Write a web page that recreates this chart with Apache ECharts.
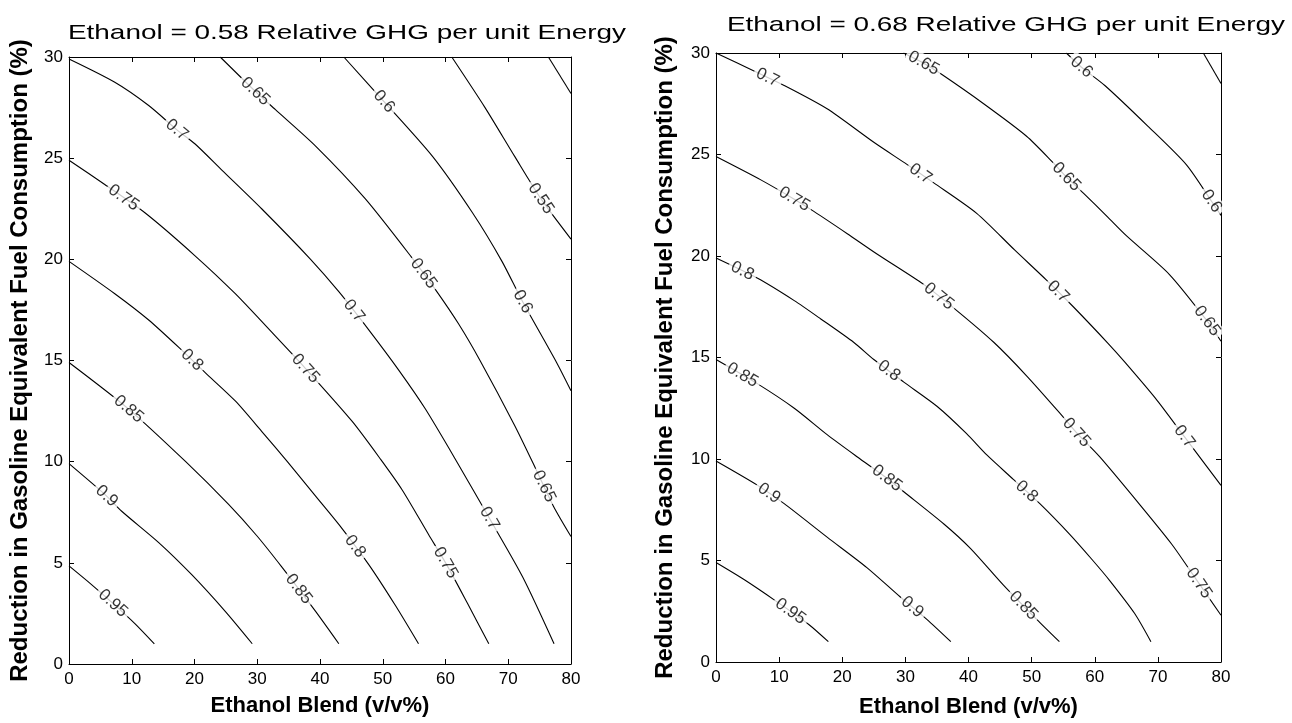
<!DOCTYPE html>
<html>
<head>
<meta charset="utf-8">
<script src="https://cdn.jsdelivr.net/npm/echarts@6/dist/echarts.min.js"></script>
<style>
html, body { margin: 0; padding: 0; background: #fff; }
#chart { width: 1292px; height: 723px; }
</style>
</head>
<body>
<div id="chart"></div>
<script>
var F = '"Liberation Sans", Arial, Helvetica, sans-serif';

// texts
var leftTitle = 'Ethanol = 0.58 Relative GHG per unit Energy';
var rightTitle = 'Ethanol = 0.68 Relative GHG per unit Energy';
var xName = 'Ethanol Blend (v/v%)';
var yName = 'Reduction in Gasoline Equivalent Fuel Consumption (%)';

// contour levels (left panel)
var leftLevels = [0.95, 0.9, 0.85, 0.8, 0.75, 0.7, 0.65, 0.6, 0.55, 0.5];
var left095 = [[0,4.85],[3.5,3.95],[7,3.0],[10.5,2.0],[13.6,1.0]];
var left090 = [[0,9.9],[6.0,8.3],[8.4,7.55],[14.3,6.0],[19.6,4.4],[24.9,2.6],[29.2,1.0]];
var left085 = [[0,14.9],[9.5,12.6],[18.6,10.0],[25.4,7.9],[29.9,6.35],[33.9,4.8],[39.3,2.6],[43.0,1.0]];
var left080 = [[0,19.9],[7.3,18.3],[12.7,17.0],[18.0,15.5],[21.7,14.4],[26.5,13.0],[30.7,11.5],[34.8,10.0],[39.3,8.3],[43.0,6.9],[47.8,4.9],[52.0,2.9],[55.7,1.0]];
var left075 = [[0,24.9],[5.7,23.7],[12.1,22.3],[20.0,20.2],[26.5,18.3],[32.9,16.2],[37.7,14.6],[45.1,12.0],[49.7,10.1],[53.1,8.6],[57.3,6.4],[60.2,4.9],[63.5,3.0],[66.9,1.0]];
var left070 = [[0,29.9],[7.3,28.75],[12.7,27.6],[17.2,26.4],[20.1,25.7],[24.4,24.4],[30.7,22.5],[38.5,20.0],[43.0,18.4],[47.8,16.5],[52.6,14.5],[56.8,12.6],[61.8,10.0],[67.0,7.2],[72.3,4.3],[77.3,1.0]];
var left065 = [[24.1,30],[29.7,28.3],[32.9,27.4],[39.3,25.6],[47.2,23.0],[54.6,20.1],[58.4,18.5],[62.1,16.8],[65.5,15.0],[71.0,11.8],[74.3,9.7],[77.2,7.8],[80,6.3]];
var left060 = [[43.8,30],[50.2,27.8],[57.9,25.1],[64.3,22.3],[69.0,19.9],[72.3,17.9],[77.7,14.9],[80,13.5]];
var left055 = [[61.0,30],[66.3,27.5],[71.0,25.1],[75.2,23.0],[80,21.0]];
var left050 = [[76.4,30],[80,28.2]];
// x positions of the inline labels, one list per level
var leftLabelX = [[7.0],[6.0],[9.5,36.6],[19.6,45.6],[8.7,37.7,60.0],[17.2,45.4,67.0],[29.7,56.5,75.7],[50.2,72.3],[75.2],[]];

// contour levels (right panel)
var rightLevels = [0.95, 0.9, 0.85, 0.8, 0.75, 0.7, 0.65, 0.6, 0.55];
var right095 = [[0,4.9],[4.5,4.05],[9.5,3.0],[14.7,1.85],[17.8,1.0]];
var right090 = [[0,9.9],[6.6,8.7],[10.8,7.8],[17.6,6.15],[23.9,4.65],[29.2,3.2],[33.4,2.1],[37.2,1.0]];
var right085 = [[0,14.9],[6.6,13.7],[12.4,12.5],[17.6,11.2],[22.4,10.1],[27.1,9.05],[29.7,8.4],[36.1,6.8],[40.3,5.6],[45.5,3.8],[50.8,2.1],[54.4,1.0]];
var right080 = [[0,19.9],[6.6,18.9],[12.4,17.8],[16.6,16.9],[21.8,15.75],[25.0,14.9],[29.7,13.8],[35.0,12.6],[39.7,11.25],[42.9,10.2],[47.1,9.0],[51.3,7.8],[56.0,6.3],[59.7,5.0],[62.4,4.0],[66.3,2.4],[68.9,1.0]];
var right075 = [[0,24.9],[7.1,23.75],[12.4,22.8],[15.5,22.2],[20.8,21.1],[25.5,20.1],[32.9,18.6],[38.2,17.3],[44.0,15.75],[49.2,14.1],[54.5,12.25],[57.1,11.3],[60.8,10.1],[67.0,7.8],[72.2,5.8],[74.9,4.6],[80,2.3]];
var right070 = [[0,30],[6.1,29.1],[10.8,28.4],[17.6,27.25],[25.0,25.6],[30.3,24.5],[34.5,23.6],[41.3,22.1],[47.3,20.3],[52.4,18.8],[56.6,17.5],[62.1,15.7],[64.7,14.8],[69.6,13.0],[74.2,11.1],[80,8.7]];
var right065 = [[29.7,30],[32.9,29.5],[35.5,29.0],[42.4,27.5],[49.2,25.9],[53.4,24.6],[55.5,23.9],[58.2,23.1],[62.1,21.9],[65.0,21.0],[71.8,19.1],[77.8,16.8],[80,15.8]];
var right060 = [[55.5,30],[57.9,29.3],[61.6,28.4],[68.4,26.4],[74.5,24.5],[78.5,22.7],[80,22.0]];
var right055 = [[77.2,30],[80,28.5]];
var rightLabelX = [[11.8],[8.4,31.1],[4.2,27.1,48.7],[4.2,27.4,49.2],[12.4,35.3,57.1,76.5],[8.2,32.4,54.2,74.2],[32.9,55.5,77.8],[57.9,78.5],[]];

var leftLines = [left095, left090, left085, left080, left075, left070, left065, left060, left055, left050];
var rightLines = [right095, right090, right085, right080, right075, right070, right065, right060, right055];

var myChart = echarts.init(document.getElementById('chart'));

function interpY(pts, x) {
    if (x <= pts[0][0]) return pts[0][1];
    for (var i = 0; i < pts.length - 1; i++) {
        var a = pts[i], b = pts[i + 1];
        if (x >= a[0] && x <= b[0]) return a[1] + (b[1] - a[1]) * (x - a[0]) / (b[0] - a[0]);
    }
    return pts[pts.length - 1][1];
}

function xAxisOf(g, pos, main) {
    return {
        type: 'value', gridIndex: g, position: pos, min: 0, max: 80, interval: 10,
        axisLine: { show: true, onZero: false, lineStyle: { color: '#000', width: 1 } },
        axisTick: { show: true, inside: true, length: 5, lineStyle: { color: '#000' } },
        axisLabel: { show: main, color: '#000', fontSize: 17, fontFamily: F, margin: 7, showMinLabel: true, showMaxLabel: true },
        splitLine: { show: false },
        name: main ? xName : '', nameLocation: 'middle', nameGap: g === 0 ? 31 : 34,
        nameTextStyle: { color: '#000', fontSize: 22, fontWeight: 'bold', fontFamily: F }
    };
}
function yAxisOf(g, pos, main) {
    return {
        type: 'value', gridIndex: g, position: pos, min: 0, max: 30, interval: 5,
        axisLine: { show: true, onZero: false, lineStyle: { color: '#000', width: 1 } },
        axisTick: { show: true, inside: true, length: 5, lineStyle: { color: '#000' } },
        axisLabel: { show: main, color: '#000', fontSize: 17, fontFamily: F, margin: 6, showMinLabel: true, showMaxLabel: true },
        splitLine: { show: false },
        name: main ? yName : '', nameLocation: 'middle', nameRotate: 90, nameGap: g === 0 ? 37 : 39,
        nameTextStyle: { color: '#000', fontSize: 24, fontWeight: 'bold', fontFamily: F }
    };
}

function lineSeries(g, lines) {
    return lines.map(function (pts) {
        return {
            type: 'line', xAxisIndex: 2 * g, yAxisIndex: 2 * g, data: pts,
            symbol: 'none', smooth: 0.25, silent: true, z: 2,
            lineStyle: { color: '#000', width: 1.1 }
        };
    });
}

function labelSeries(g, lines, levels, labelX, firstIdx) {
    var items = [];
    lines.forEach(function (pts, i) {
        (labelX[i] || []).forEach(function (x) {
            var y = interpY(pts, x);
            var rot = 0;
            if (firstIdx != null) {
                var xa = Math.max(x - 2, pts[0][0]), xb = Math.min(x + 2, pts[pts.length - 1][0]);
                var p1 = myChart.convertToPixel({ seriesIndex: firstIdx }, [xa, interpY(pts, xa)]);
                var p2 = myChart.convertToPixel({ seriesIndex: firstIdx }, [xb, interpY(pts, xb)]);
                rot = -Math.atan2(p2[1] - p1[1], p2[0] - p1[0]) * 180 / Math.PI;
            }
            items.push({ value: [x, y, levels[i]], label: { rotate: rot } });
        });
    });
    return {
        type: 'scatter', xAxisIndex: 2 * g, yAxisIndex: 2 * g, data: items,
        symbolSize: 1, itemStyle: { color: 'rgba(0,0,0,0)' }, silent: true, z: 10,
        label: {
            show: true, position: 'inside', color: '#000', fontSize: 17, fontFamily: F,
            backgroundColor: '#fff', padding: [0, 3],
            formatter: function (p) { return String(p.value[2]); }
        }
    };
}

function buildOption(withRot) {
    var series = [].concat(lineSeries(0, leftLines), lineSeries(1, rightLines));
    var leftFirst = withRot ? 0 : null;
    var rightFirst = withRot ? leftLines.length : null;
    series.push(labelSeries(0, leftLines, leftLevels, leftLabelX, leftFirst));
    series.push(labelSeries(1, rightLines, rightLevels, rightLabelX, rightFirst));
    return {
        animation: false,
        backgroundColor: '#fff',
        grid: [
            { left: 69, top: 57, width: 502, height: 607 },
            { left: 716, top: 53, width: 505, height: 614 }
        ],
        xAxis: [xAxisOf(0, 'bottom', true), xAxisOf(0, 'top', false), xAxisOf(1, 'bottom', true), xAxisOf(1, 'top', false)],
        yAxis: [yAxisOf(0, 'left', true), yAxisOf(0, 'right', false), yAxisOf(1, 'left', true), yAxisOf(1, 'right', false)],
        graphic: [
            { type: 'text', x: 347, y: 33, scaleX: 1.33, silent: true,
              style: { text: leftTitle, fontSize: 21, fontFamily: F, fill: '#000', align: 'center', verticalAlign: 'middle', textAlign: 'center', textVerticalAlign: 'middle' } },
            { type: 'text', x: 1006, y: 25, scaleX: 1.33, silent: true,
              style: { text: rightTitle, fontSize: 21, fontFamily: F, fill: '#000', align: 'center', verticalAlign: 'middle', textAlign: 'center', textVerticalAlign: 'middle' } }
        ],
        series: series
    };
}

myChart.setOption(buildOption(false));
// second pass: turn every label along its curve
myChart.setOption(buildOption(true), true);
</script>
</body>
</html>
